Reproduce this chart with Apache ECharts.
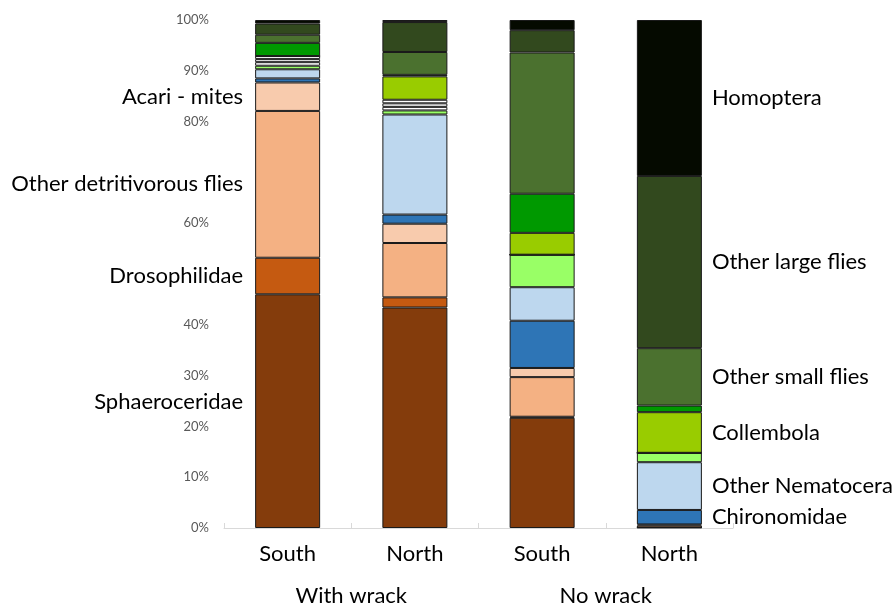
<!DOCTYPE html>
<html><head><meta charset="utf-8">
<script src="https://cdn.jsdelivr.net/npm/echarts@6/dist/echarts.min.js"></script>
<style>html,body{margin:0;padding:0;background:#fff}#c{width:896px;height:607px}</style>
</head><body><div id="c"></div>
<script>
// Categories
const sites = ['South', 'North', 'South', 'North'];
const groups = ['With wrack', 'No wrack'];
const hiddenTickLabels = [50, 70];

// Series values (% of individuals), bottom to top: [With wrack South, With wrack North, No wrack South, No wrack North]
const sphaeroceridae   = [46.0, 43.4, 21.7, 0.1];
const drosophilidae    = [7.2, 2.0, 0.2, 0];
const otherDetritFlies = [28.9, 10.7, 7.8, 0.4];
const acariMites       = [5.6, 3.8, 1.8, 0.2];
const chironomidae     = [0.8, 1.8, 9.3, 2.85];
const otherNematocera  = [1.8, 19.7, 6.6, 9.4];
const lightGreenTaxon  = [0.7, 0.8, 6.4, 1.85];
const whiteTaxonA      = [0.7, 0.7, 0, 0];
const whiteTaxonB      = [0.6, 0.7, 0, 0];
const whiteTaxonC      = [0.6, 0.7, 0, 0];
const collembola       = [0, 4.6, 4.3, 8.0];
const greenTaxon       = [2.6, 0.3, 7.7, 1.3];
const otherSmallFlies  = [1.6, 4.5, 27.8, 11.3];
const otherLargeFlies  = [2.2, 5.9, 4.4, 33.9];
const homoptera        = [0.7, 0.4, 2.0, 30.7];

const seriesNames = ['Sphaeroceridae', 'Drosophilidae', 'Other detritivorous flies', 'Acari - mites',
  'Chironomidae', 'Other Nematocera', 'Unlabelled (light green)', 'Unlabelled A', 'Unlabelled B', 'Unlabelled C',
  'Collembola', 'Unlabelled (green)', 'Other small flies', 'Other large flies', 'Homoptera'];
const seriesValues = [sphaeroceridae, drosophilidae, otherDetritFlies, acariMites, chironomidae, otherNematocera,
  lightGreenTaxon, whiteTaxonA, whiteTaxonB, whiteTaxonC, collembola, greenTaxon, otherSmallFlies, otherLargeFlies, homoptera];
const leftLabelled = ['Sphaeroceridae', 'Drosophilidae', 'Other detritivorous flies', 'Acari - mites'];
const rightLabelled = ['Chironomidae', 'Other Nematocera', 'Collembola', 'Other small flies', 'Other large flies', 'Homoptera'];

// Styles
const colors = ['#843C0C', '#C55A11', '#F4B183', '#F8CBAD', '#2E75B6', '#BDD7EE', '#99FF66', '#FFFFFF', '#F2F2F2', '#FFFFFF',
  '#99CC00', '#009900', '#4B712F', '#32491E', '#050A00'];
const FONT = 'Lato, "Open Sans", sans-serif';
const labelOffsets = { 'Sphaeroceridae': [0, -9] };

const series = seriesNames.map((name, i) => {
  const data = seriesValues[i].map((v, j) => {
    const item = { value: v };
    if (j === 0 && leftLabelled.includes(name)) {
      item.label = { show: true, position: 'left', distance: 12, formatter: name, offset: labelOffsets[name] || [0, 0] };
    } else if (j === 3 && rightLabelled.includes(name)) {
      item.label = { show: true, position: 'right', distance: 10, formatter: name };
    }
    return item;
  });
  return {
    name, type: 'bar', stack: 'total', barWidth: 65, data,
    itemStyle: { color: colors[i], borderColor: '#1a1a1a', borderWidth: 1 },
    label: { show: false, color: '#000', fontSize: 22, fontFamily: FONT },
    emphasis: { disabled: true }
  };
});

const chart = echarts.init(document.getElementById('c'), null, { renderer: 'canvas' });
chart.setOption({
  animation: false,
  backgroundColor: '#fff',
  grid: { left: 224, right: 163, top: 20, bottom: 79 },
  xAxis: [
    { type: 'category', data: sites, position: 'bottom',
      axisLine: { show: true, lineStyle: { color: '#D9D9D9', width: 1 } },
      axisTick: { show: true, interval: 0, length: 5, inside: true, lineStyle: { color: '#D9D9D9' } },
      axisLabel: { color: '#000', fontSize: 22, fontFamily: FONT, margin: 15 } },
    { type: 'category', data: groups, position: 'bottom', offset: 42,
      axisLine: { show: false }, axisTick: { show: false },
      axisLabel: { color: '#000', fontSize: 22, fontFamily: FONT, margin: 15 } }
  ],
  yAxis: {
    type: 'value', min: 0, max: 100, interval: 10,
    axisLine: { show: false }, axisTick: { show: false }, splitLine: { show: false },
    axisLabel: { color: '#595959', fontSize: 13, fontFamily: FONT, margin: 15,
      formatter: v => hiddenTickLabels.includes(v) ? '' : v + '%' }
  },
  series
});
</script></body></html>
